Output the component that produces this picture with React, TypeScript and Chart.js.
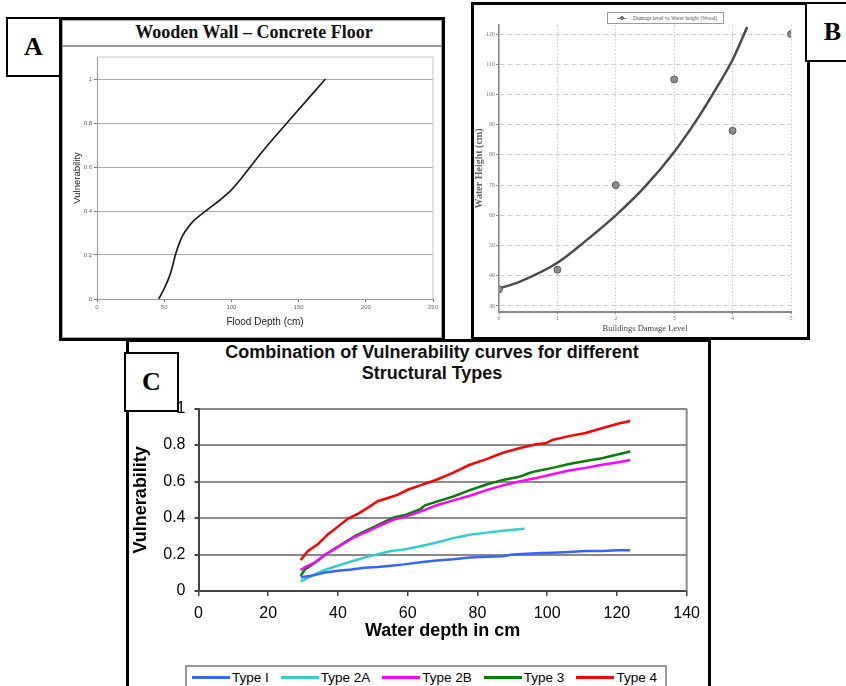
import React, { useEffect, useRef } from 'react';
import { Chart, registerables } from 'chart.js';

Chart.register(...registerables);
Chart.defaults.font.family = '"Liberation Sans", Arial, sans-serif';

const SERIF = '"Liberation Serif", "Times New Roman", serif';
const SANS = '"Liberation Sans", Arial, sans-serif';

// ---------- Panel A : Wooden Wall – Concrete Floor ----------
const A_TITLE = 'Wooden Wall – Concrete Floor';
const A_DEPTH = [46, 50.8, 54.8, 58.3, 62.8, 66.5, 71.5, 81.5, 91.5, 100.2, 107.6, 115, 126.3, 141.3, 170];
const A_VULN = [0, 0.058, 0.118, 0.2, 0.277, 0.315, 0.353, 0.403, 0.45, 0.497, 0.55, 0.608, 0.694, 0.8, 1.0];
const A_X_TICKS = [0, 50, 100, 150, 200, 250];
const A_Y_TICKS = [0, 0.2, 0.4, 0.6, 0.8, 1];

// ---------- Panel B : damage level vs water height ----------
const B_LEGEND = 'Damage level vs Water height (Wood)';
const B_LEVEL = [0, 1, 2, 3, 4, 5];
const B_HEIGHT = [35.5, 42, 70, 105, 88, 120];
const B_FIT_LEVEL = [0, 0.35, 1, 1.5, 2, 2.5, 3, 3.45, 3.75, 4, 4.25];
const B_FIT_HEIGHT = [35.8, 38, 44.3, 51.8, 60, 69.5, 81, 93.5, 103, 111.5, 122.3];
const B_X_TICKS = [0, 1, 2, 3, 4, 5];
const B_Y_TICKS = [30, 40, 50, 60, 70, 80, 90, 100, 110, 120];

// ---------- Panel C : combination of vulnerability curves ----------
const C_TITLE = ['Combination of Vulnerability curves for different', 'Structural Types'];
const C_NAMES = ['Type I', 'Type 2A', 'Type 2B', 'Type 3', 'Type 4'];
const C_COLORS = ['#3366ff', '#33cccc', '#ff00ff', '#008000', '#ff0000'];
const C_X_TICKS = [0, 20, 40, 60, 80, 100, 120, 140];
const C_Y_TICKS = [0, 0.2, 0.4, 0.6, 0.8, 1];

const T1_X = [29.3, 32.4, 36.2, 40, 43.8, 47.6, 51.4, 55.2, 59, 63.6, 68.3, 73.1, 77.8, 82.6, 87.3, 90.1, 96.8, 101.5, 106.3, 111, 115.7, 120.5, 123.8];
const T1_Y = [0.075, 0.083, 0.101, 0.111, 0.118, 0.127, 0.132, 0.139, 0.146, 0.157, 0.167, 0.174, 0.183, 0.188, 0.191, 0.2, 0.207, 0.21, 0.214, 0.219, 0.219, 0.223, 0.223];

const T2A_X = [29.3, 32.4, 36.2, 40, 43.8, 47.6, 51.4, 55.2, 59, 63.6, 68.3, 73.1, 77.8, 82.6, 87.3, 93.5];
const T2A_Y = [0.052, 0.083, 0.115, 0.139, 0.162, 0.183, 0.202, 0.219, 0.228, 0.245, 0.266, 0.29, 0.308, 0.32, 0.33, 0.341];

const T2B_X = [29.3, 30.5, 33.3, 36.2, 39, 41.9, 44.8, 47.6, 50.5, 53.3, 56.2, 59, 63.6, 68.3, 73.1, 77.8, 82.6, 87.3, 92, 96.8, 101.5, 106.3, 111, 115.7, 120.5, 123.8];
const T2B_Y = [0.115, 0.13, 0.155, 0.197, 0.231, 0.263, 0.296, 0.32, 0.345, 0.37, 0.393, 0.405, 0.435, 0.47, 0.497, 0.522, 0.553, 0.579, 0.6, 0.619, 0.64, 0.661, 0.675, 0.692, 0.706, 0.718];

const T3_X = [29.3, 30.5, 33.3, 36.2, 39, 41.9, 44.8, 47.6, 50.5, 53.3, 56.2, 59, 63.6, 65, 68.3, 73.1, 77.8, 82.6, 87.3, 92, 94.9, 96.8, 101.5, 106.3, 111, 115.7, 120.5, 123.8];
const T3_Y = [0.083, 0.118, 0.153, 0.197, 0.231, 0.266, 0.301, 0.327, 0.353, 0.379, 0.405, 0.415, 0.449, 0.47, 0.49, 0.518, 0.553, 0.584, 0.609, 0.626, 0.647, 0.657, 0.675, 0.696, 0.713, 0.728, 0.75, 0.765];

const T4_X = [29.3, 31.4, 34.3, 37.1, 40, 42.9, 45.7, 48.6, 51.4, 54.3, 57.1, 60, 63.6, 68.3, 73.1, 77.8, 82.6, 87.3, 92, 96.8, 99.6, 101.5, 106.3, 111, 115.7, 120.5, 123.8];
const T4_Y = [0.17, 0.219, 0.257, 0.31, 0.353, 0.397, 0.423, 0.457, 0.492, 0.51, 0.527, 0.555, 0.579, 0.61, 0.649, 0.692, 0.723, 0.758, 0.783, 0.805, 0.81, 0.828, 0.849, 0.866, 0.892, 0.918, 0.932];

const C_XS = [T1_X, T2A_X, T2B_X, T3_X, T4_X];
const C_YS = [T1_Y, T2A_Y, T2B_Y, T3_Y, T4_Y];

const pts = (xs: number[], ys: number[]) => xs.map((x, i) => ({ x, y: ys[i] }));
const fixTicks = (vals: number[]) => (s: any) => {
  s.ticks = vals.map((v) => ({ value: v }));
};

const framePlugin = (id: string, color: string, width: number, sides: string) => ({
  id,
  beforeDatasetsDraw(chart: any) {
    const { ctx, chartArea: a } = chart;
    ctx.save();
    ctx.strokeStyle = color;
    ctx.lineWidth = width;
    ctx.beginPath();
    if (sides.includes('t')) {
      ctx.moveTo(a.left, a.top);
      ctx.lineTo(a.right, a.top);
    }
    if (sides.includes('r')) {
      ctx.moveTo(a.right, a.top);
      ctx.lineTo(a.right, a.bottom);
    }
    ctx.stroke();
    ctx.restore();
  },
});

function ChartBox({ left, top, width, height, build }: any) {
  const ref = useRef<HTMLCanvasElement | null>(null);
  useEffect(() => {
    const chart = new Chart(ref.current as HTMLCanvasElement, build());
    return () => chart.destroy();
  }, []);
  return (
    <canvas
      ref={ref}
      width={width}
      height={height}
      style={{ position: 'absolute', left, top, width, height }}
    />
  );
}

const buildA = () => ({
  type: 'scatter',
  data: {
    datasets: [
      {
        label: 'Vulnerability',
        data: pts(A_DEPTH, A_VULN),
        showLine: true,
        borderColor: '#1a1a1a',
        borderWidth: 1.7,
        pointRadius: 0,
        cubicInterpolationMode: 'monotone',
      },
    ],
  },
  options: {
    responsive: false,
    animation: false,
    events: [],
    layout: { padding: { left: 0, right: 10, top: 9, bottom: 0 } },
    plugins: { legend: { display: false }, tooltip: { enabled: false } },
    scales: {
      x: {
        type: 'linear',
        min: 0,
        max: 250,
        afterBuildTicks: fixTicks(A_X_TICKS),
        afterFit: (s: any) => {
          s.height = 39;
        },
        ticks: { font: { size: 6 }, color: '#666', padding: 2, maxRotation: 0, autoSkip: false },
        grid: { drawOnChartArea: false, tickLength: 3, color: '#777' },
        border: { color: '#9a9a9a', width: 1 },
        title: {
          display: true,
          text: 'Flood Depth (cm)',
          font: { size: 10 },
          color: '#222',
          padding: { top: 0, bottom: 10 },
        },
      },
      y: {
        type: 'linear',
        min: 0,
        max: 1.1,
        afterBuildTicks: fixTicks(A_Y_TICKS),
        afterFit: (s: any) => {
          s.width = 35;
        },
        ticks: { font: { size: 6 }, color: '#666', padding: 2, callback: (v: any) => String(v) },
        grid: { color: '#a9a9a9', tickLength: 3, tickColor: '#777' },
        border: { color: '#9a9a9a', width: 1 },
        title: {
          display: true,
          text: 'Vulnerability',
          font: { size: 9.5 },
          color: '#222',
          padding: { top: 10, bottom: 0 },
        },
      },
    },
  },
  plugins: [framePlugin('frameA', '#c4c4c4', 1, 'tr')],
});

const buildB = () => ({
  type: 'scatter',
  data: {
    datasets: [
      {
        label: B_LEGEND,
        data: pts(B_LEVEL, B_HEIGHT),
        showLine: false,
        pointRadius: 3.5,
        pointBackgroundColor: '#8c8c8c',
        pointBorderColor: '#5a5a5a',
        pointBorderWidth: 1,
      },
      {
        label: 'Fit',
        data: pts(B_FIT_LEVEL, B_FIT_HEIGHT),
        showLine: true,
        borderColor: '#4a4a4a',
        borderWidth: 2.5,
        pointRadius: 0,
        cubicInterpolationMode: 'monotone',
      },
    ],
  },
  options: {
    responsive: false,
    animation: false,
    events: [],
    layout: { padding: { left: 0, right: 16, top: 19, bottom: 0 } },
    plugins: { legend: { display: false }, tooltip: { enabled: false } },
    scales: {
      x: {
        type: 'linear',
        min: 0,
        max: 5,
        afterBuildTicks: fixTicks(B_X_TICKS),
        afterFit: (s: any) => {
          s.height = 25;
        },
        ticks: { font: { size: 6, family: SERIF }, color: '#777', padding: 1, maxRotation: 0 },
        grid: { color: '#cccccc', tickLength: 2, tickColor: '#888' },
        border: { color: '#8a8a8a', width: 2, dash: [1.5, 2] },
        title: {
          display: true,
          text: 'Buildings Damage Level',
          font: { size: 8.5, family: SERIF },
          color: '#444',
          padding: { top: 0, bottom: 3 },
        },
      },
      y: {
        type: 'linear',
        min: 28,
        max: 123,
        afterBuildTicks: fixTicks(B_Y_TICKS),
        afterFit: (s: any) => {
          s.width = 25;
        },
        ticks: { font: { size: 6, family: SERIF }, color: '#777', padding: 1 },
        grid: { color: '#cccccc', tickLength: 3, tickColor: '#888' },
        border: { color: '#8a8a8a', width: 1.5, dash: [5, 3] },
        title: {
          display: true,
          text: 'Water Height (cm)',
          font: { size: 10, family: SERIF, weight: 'bold', lineHeight: 1 },
          color: '#666',
          padding: { top: 0, bottom: 0 },
        },
      },
    },
  },
});

const buildC = () => ({
  type: 'scatter',
  data: {
    datasets: C_NAMES.map((name, i) => ({
      label: name,
      data: pts(C_XS[i], C_YS[i]),
      showLine: true,
      borderColor: C_COLORS[i],
      backgroundColor: C_COLORS[i],
      borderWidth: 2.5,
      pointRadius: 0,
      tension: 0,
    })),
  },
  options: {
    responsive: false,
    animation: false,
    events: [],
    layout: { padding: { left: 0, right: 18, top: 10, bottom: 0 } },
    plugins: { legend: { display: false }, tooltip: { enabled: false } },
    scales: {
      x: {
        type: 'linear',
        min: 0,
        max: 140,
        afterBuildTicks: fixTicks(C_X_TICKS),
        afterFit: (s: any) => {
          s.height = 64;
        },
        ticks: { font: { size: 16 }, color: '#000', padding: 8, maxRotation: 0, autoSkip: false },
        grid: { drawOnChartArea: false, tickLength: 5, color: '#444', lineWidth: 1.5 },
        border: { color: '#444', width: 2 },
        title: {
          display: true,
          text: 'Water depth in cm',
          font: { size: 18, weight: 'bold' },
          color: '#000',
          padding: { top: 0, bottom: 13 },
        },
      },
      y: {
        type: 'linear',
        min: 0,
        max: 1,
        afterBuildTicks: fixTicks(C_Y_TICKS),
        afterFit: (s: any) => {
          s.width = 69.5;
        },
        ticks: { font: { size: 16 }, color: '#000', padding: 9, callback: (v: any) => String(v) },
        grid: { color: '#8a8a8a', lineWidth: 2, tickLength: 4, tickColor: '#444' },
        border: { color: '#444', width: 2 },
        title: {
          display: true,
          text: 'Vulnerability',
          font: { size: 18, weight: 'bold' },
          color: '#000',
          padding: { top: 1, bottom: 0 },
        },
      },
    },
  },
  plugins: [framePlugin('frameC', '#8a8a8a', 2, 'r')],
});

const abs = (left: number, top: number, width: number, height: number, extra: any = {}) => ({
  position: 'absolute' as const,
  left,
  top,
  width,
  height,
  boxSizing: 'border-box' as const,
  ...extra,
});

function LabelBox({ left, top, text }: any) {
  return (
    <div
      style={abs(left, top, 55, 60, {
        border: '2.5px solid #000',
        background: '#fff',
        display: 'flex',
        alignItems: 'center',
        justifyContent: 'center',
        fontFamily: SERIF,
        fontWeight: 'bold',
        fontSize: 26,
        color: '#000',
      })}
    >
      {text}
    </div>
  );
}

export default function App() {
  return (
    <div
      style={{
        position: 'absolute',
        left: 0,
        top: 0,
        width: 846,
        height: 686,
        overflow: 'hidden',
        background: '#fff',
      }}
    >
      {/* Panel A frame */}
      <div style={abs(59, 17, 386, 324, { border: '3px solid #000' })} />
      <div style={abs(62, 20, 380, 318, { border: '1px solid #aaa' })} />
      <div style={abs(62, 45, 380, 1.5, { background: '#999' })} />
      <div
        style={abs(64, 21, 380, 23, {
          textAlign: 'center',
          fontFamily: SERIF,
          fontWeight: 'bold',
          fontSize: 18,
          lineHeight: '23px',
          color: '#111',
        })}
      >
        {A_TITLE}
      </div>
      <ChartBox left={62} top={48} width={381} height={290} build={buildA} />

      {/* Panel B frame */}
      <div style={abs(471, 2, 339, 338, { border: '3px solid #000' })} />
      <ChartBox left={474} top={6} width={333} height={331} build={buildB} />
      <div
        style={abs(607, 12, 117, 12, {
          border: '1px solid #999',
          background: '#fff',
          display: 'flex',
          alignItems: 'center',
          paddingLeft: 9,
          fontFamily: SERIF,
          fontSize: 5.5,
          color: '#555',
          whiteSpace: 'nowrap',
        })}
      >
        <span style={{ position: 'relative', width: 10, height: 6, display: 'inline-block' }}>
          <span style={{ position: 'absolute', left: 0, top: 2.5, width: 10, height: 1, background: '#888' }} />
          <span
            style={{
              position: 'absolute',
              left: 2.5,
              top: 1,
              width: 4,
              height: 4,
              borderRadius: '50%',
              background: '#8c8c8c',
              border: '0.5px solid #555',
              boxSizing: 'border-box',
            }}
          />
        </span>
        <span style={{ marginLeft: 6 }}>{B_LEGEND}</span>
      </div>

      {/* Panel C frame */}
      <div style={abs(126, 339, 585, 370, { border: '3px solid #000' })} />
      <div
        style={abs(212, 342, 440, 44, {
          textAlign: 'center',
          fontFamily: SANS,
          fontWeight: 'bold',
          fontSize: 18,
          lineHeight: '21px',
          color: '#111',
        })}
      >
        {C_TITLE[0]}
        <br />
        {C_TITLE[1]}
      </div>
      <ChartBox left={129} top={390} width={579} height={265} build={buildC} />
      <div
        style={abs(185, 665, 482, 40, {
          border: '2px solid #999',
          background: '#fff',
          display: 'flex',
          alignItems: 'flex-start',
          paddingLeft: 5,
          paddingTop: 2,
          gap: 12,
          fontFamily: SANS,
          fontSize: 13.5,
          color: '#000',
          whiteSpace: 'nowrap',
        })}
      >
        {C_NAMES.map((n, i) => (
          <div key={n} style={{ display: 'flex', alignItems: 'center', height: 16 }}>
            <span style={{ display: 'inline-block', width: 38, height: 3, background: C_COLORS[i] }} />
            <span style={{ marginLeft: 2 }}>{n}</span>
          </div>
        ))}
      </div>

      {/* Panel labels */}
      <LabelBox left={6} top={17} text="A" />
      <LabelBox left={805} top={2} text="B" />
      <LabelBox left={124} top={352} text="C" />
    </div>
  );
}
